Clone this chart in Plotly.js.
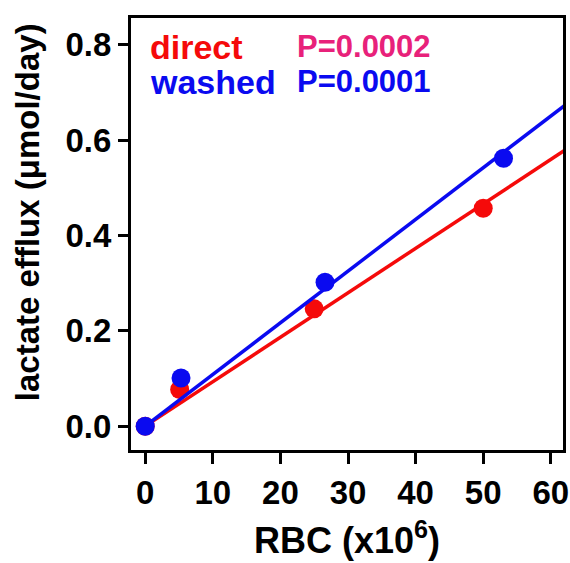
<!DOCTYPE html>
<html>
<head>
<meta charset="utf-8">
<script src="https://cdn.plot.ly/plotly-3.0.1.min.js"></script>
<style>html,body{margin:0;padding:0;background:#fff;}#chart{width:570px;height:563px;}</style>
</head>
<body>
<div id="chart"></div>
<script>
// Data
const directX = [0, 5.1, 25.0, 50.0];
const directY = [0, 0.077, 0.246, 0.457];
const washedX = [0, 5.3, 26.6, 53.0];
const washedY = [0, 0.101, 0.302, 0.562];
const fitX = [0, 62];
const directFitY = [0, 0.578];
const washedFitY = [0, 0.672];
const xTicks = [0, 10, 20, 30, 40, 50, 60];
const yTicks = [0.0, 0.2, 0.4, 0.6, 0.8];

const RED = '#f50a0a';
const BLUE = '#0a0af0';
const PINK = '#e8217a';
const FONT = 'Liberation Sans, Arial, Helvetica, sans-serif';

const traces = [
  {x: fitX, y: directFitY, mode: 'lines', line: {color: RED, width: 3.5}, showlegend: false, cliponaxis: true},
  {x: directX, y: directY, mode: 'markers', marker: {color: RED, size: 19}, showlegend: false, cliponaxis: false},
  {x: fitX, y: washedFitY, mode: 'lines', line: {color: BLUE, width: 3.5}, showlegend: false, cliponaxis: true},
  {x: washedX, y: washedY, mode: 'markers', marker: {color: BLUE, size: 19}, showlegend: false, cliponaxis: false}
];

const tickFont = {family: FONT, size: 33, color: '#000', weight: 'bold'};

const layout = {
  width: 570, height: 563,
  margin: {l: 131, r: 7, t: 18, b: 113},
  paper_bgcolor: '#fff', plot_bgcolor: '#fff',
  showlegend: false,
  xaxis: {
    range: [-2.1, 61.8], tickvals: xTicks, ticktext: xTicks.map(String),
    showgrid: false, zeroline: false, showline: true, mirror: true,
    linecolor: '#000', linewidth: 3, ticks: 'outside', ticklen: 11, tickwidth: 3, tickcolor: '#000',
    tickfont: tickFont, fixedrange: true,
    title: {text: 'RBC (x10<sup>6</sup>)', font: {family: FONT, size: 36, color: '#000', weight: 'bold'}, standoff: 19}
  },
  yaxis: {
    range: [-0.05, 0.856], tickvals: yTicks, ticktext: yTicks.map(v => v.toFixed(1)),
    showgrid: false, zeroline: false, showline: true, mirror: true,
    linecolor: '#000', linewidth: 3, ticks: 'outside', ticklen: 10, tickwidth: 3, tickcolor: '#000',
    tickfont: tickFont, fixedrange: true
  },
  annotations: [
    {xref: 'paper', yref: 'paper', x: -0.238, y: 0.551, xanchor: 'center', yanchor: 'middle', showarrow: false,
     textangle: -90, text: 'lactate efflux (\u03bcmol/day)', font: {family: FONT, size: 33, color: '#000', weight: 'bold'}},
    {xref: 'paper', yref: 'paper', x: 0.040, y: 0.933, xanchor: 'left', yanchor: 'middle', showarrow: false,
     text: 'direct', font: {family: FONT, size: 34, color: RED, weight: 'bold'}},
    {xref: 'paper', yref: 'paper', x: 0.040, y: 0.852, xanchor: 'left', yanchor: 'middle', showarrow: false,
     text: 'washed', font: {family: FONT, size: 34, color: BLUE, weight: 'bold'}},
    {xref: 'paper', yref: 'paper', x: 0.380, y: 0.933, xanchor: 'left', yanchor: 'middle', showarrow: false,
     text: 'P=0.0002', font: {family: FONT, size: 31, color: PINK, weight: 'bold'}},
    {xref: 'paper', yref: 'paper', x: 0.380, y: 0.852, xanchor: 'left', yanchor: 'middle', showarrow: false,
     text: 'P=0.0001', font: {family: FONT, size: 31, color: BLUE, weight: 'bold'}}
  ]
};

Plotly.newPlot('chart', traces, layout, {displayModeBar: false, staticPlot: true});
</script>
</body>
</html>
